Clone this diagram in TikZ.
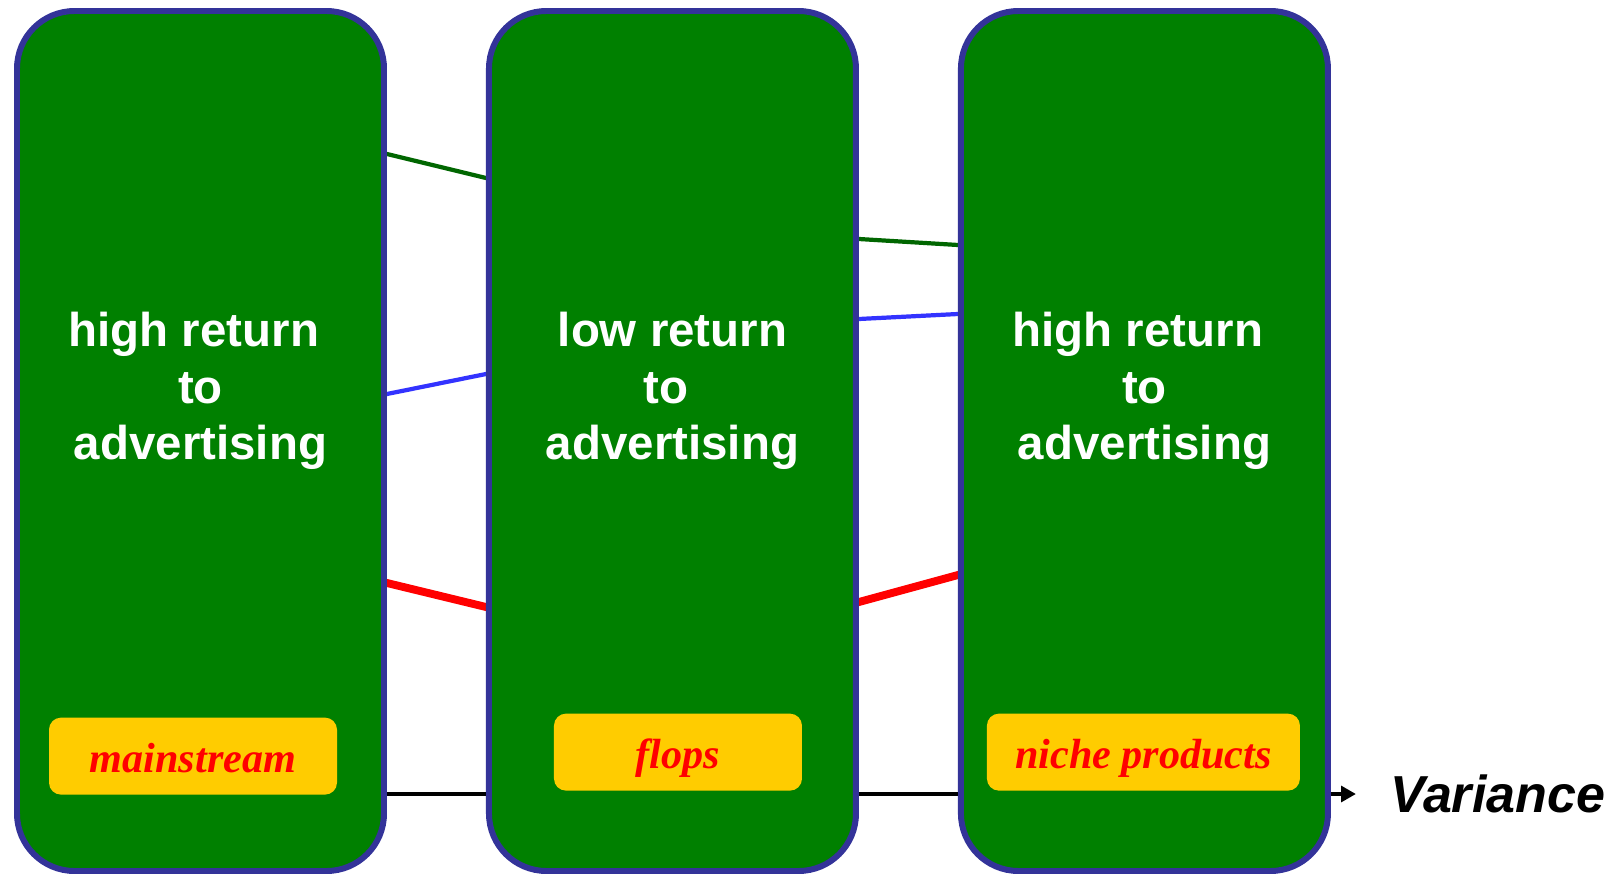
\documentclass[tikz,border=0pt]{standalone}
\usepackage{fontspec}
\setmainfont{Liberation Serif}
\setsansfont{Liberation Sans}
\usepackage{tikz}
\usetikzlibrary{arrows.meta,positioning,backgrounds,calc}
\definecolor{PanelGreen}{RGB}{0,128,0}
\definecolor{PanelEdge}{RGB}{51,51,153}
\definecolor{LinkGreen}{RGB}{0,102,0}
\definecolor{LinkBlue}{RGB}{51,51,255}
\definecolor{TagYellow}{RGB}{255,204,0}
\newcommand{\trail}{\hspace*{0.28em}}

\begin{document}
\begin{tikzpicture}[
    panel/.style={rectangle, rounded corners=1.15cm, draw=PanelEdge, fill=PanelGreen,
                  line width=3.4pt, minimum width=7.34cm, minimum height=17.2cm},
    title/.style={align=center, text=white, inner sep=0pt,
                  font=\sffamily\bfseries\fontsize{27}{32}\selectfont},
    tag/.style={rectangle, rounded corners=0.24cm, fill=TagYellow, text=red,
                minimum height=1.54cm, text height=21.6pt, text depth=3.4pt,
                font=\rmfamily\bfseries\itshape\fontsize{24}{28}\selectfont},
    link/.style={draw=#1, line width=2.4pt, shorten <=-2pt, shorten >=-2pt},
    link/.default=LinkGreen,
    redlink/.style={draw=red, line width=4.5pt, shorten <=-2pt, shorten >=-2pt},
    axis/.style={-{Triangle[length=8.5pt, width=9pt]}, draw=black, line width=2.8pt},
]
\useasboundingbox (0,0) rectangle (32.38,-17.52);

% ── Three panels ──
\node[panel] (panelA) at (4.01,-8.82) {};
\node[panel, right=1.98cm of panelA] (panelB) {};
\node[panel, right=1.98cm of panelB] (panelC) {};

% ── Panel titles (trailing spaces kept as typed) ──
\node[title] (titleA) at ([yshift=1.0cm]panelA.center) {high return\trail\\to\trail\\advertising};
\node[title] (titleB) at ([yshift=1.0cm]panelB.center) {low return\\to\trail\trail\\advertising};
\node[title] (titleC) at ([yshift=1.0cm]panelC.center) {high return\trail\\to\\advertising};

% ── Yellow tags near the bottom ──
\node[tag, minimum width=5.76cm, above=1.58cm of panelA.south, xshift=-0.15cm] (tagA) {mainstream};
\node[tag, minimum width=4.96cm, above=1.66cm of panelB.south, xshift=0.11cm] (tagB) {flops};
\node[tag, minimum width=6.26cm, above=1.66cm of panelC.south, xshift=-0.02cm] (tagC) {niche products};

% ── Links between neighbouring panels (tucked under the borders) ──
\begin{scope}[on background layer]
\draw[link] ([yshift=5.74cm]panelA.east) -- ([yshift=5.26cm]panelB.west);
\draw[link=LinkBlue] ([yshift=0.94cm]panelA.east) -- ([yshift=1.34cm]panelB.west);
\draw[redlink] ([yshift=-2.84cm]panelA.east) -- ([yshift=-3.32cm]panelB.west);

\draw[link] ([yshift=4.04cm]panelB.east) -- ([yshift=3.92cm]panelC.west);
\draw[link=LinkBlue] ([yshift=2.44cm]panelB.east) -- ([yshift=2.54cm]panelC.west);
\draw[redlink] ([yshift=-3.22cm]panelB.east) -- ([yshift=-2.68cm]panelC.west);
\end{scope}

% ── Variance axis along the bottom ──
\coordinate (tip) at ([xshift=0.5cm, yshift=-7.06cm]panelC.east);
\draw[line width=2.8pt] ([yshift=-7.06cm]panelA.east) -- ([yshift=-7.06cm]panelB.west);
\draw[line width=2.8pt] ([yshift=-7.06cm]panelB.east) -- ([yshift=-7.06cm]panelC.west);
\draw[axis] ([yshift=-7.06cm]panelC.east) -- (tip);
\node[right=0.68cm of tip, inner sep=0pt,
      font=\sffamily\bfseries\itshape\fontsize{29.6}{34}\selectfont] (variance) {Variance};

\end{tikzpicture}
\end{document}
